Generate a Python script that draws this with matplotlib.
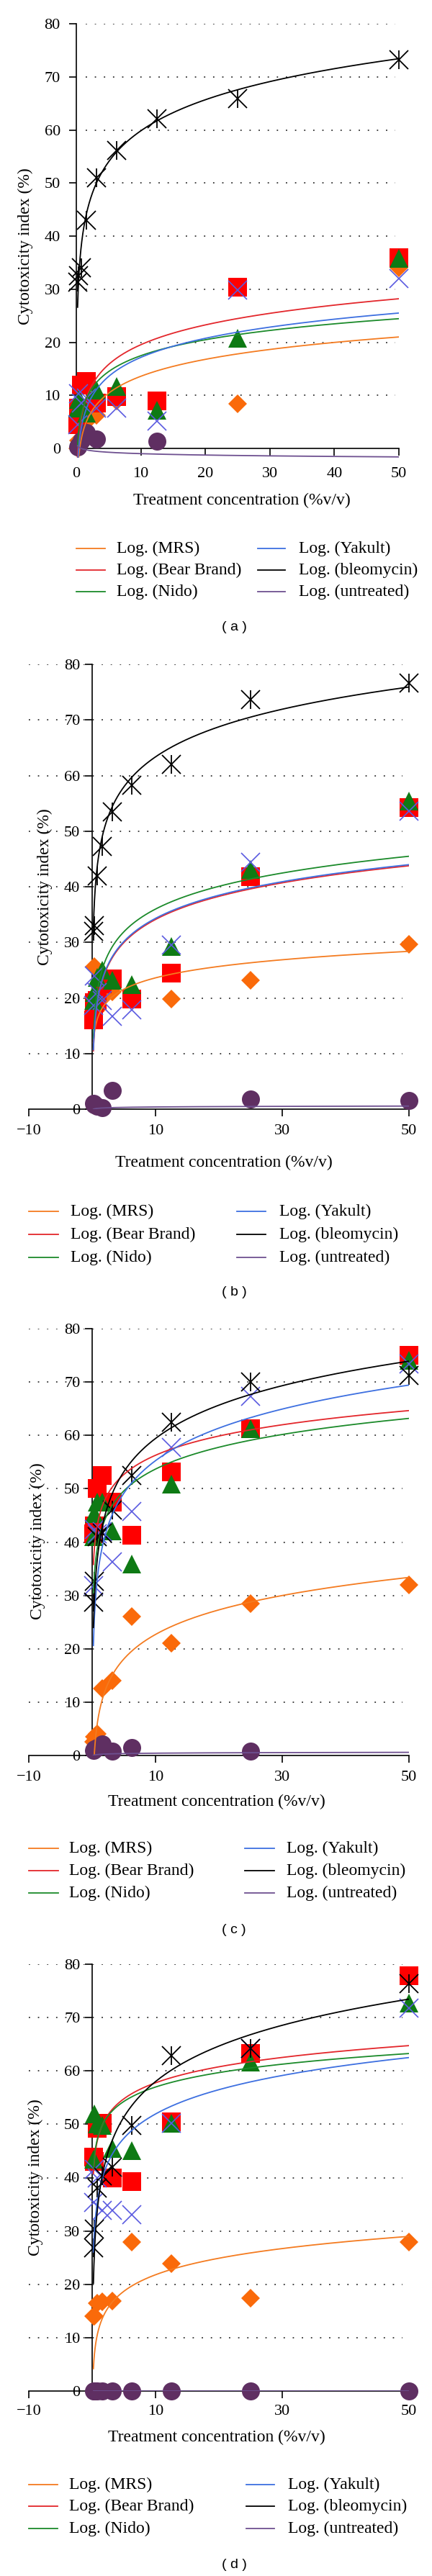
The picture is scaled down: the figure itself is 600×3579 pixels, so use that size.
import numpy as np
import matplotlib.pyplot as plt
from matplotlib.lines import Line2D

plt.rcParams["font.family"] = ["Liberation Serif", "DejaVu Serif"]

W, H = 600, 3579
nan = np.nan

conc = [0.195, 0.39, 0.78, 1.56, 3.125, 6.25, 12.5, 25, 50]
names = ["MRS", "Bear Brand", "Nido", "Yakult", "bleomycin", "untreated"]

# (a)
mrs_a = [0, 1.5, 3.5, 5.0, 6.3, 9.0, 8.0, 8.4, 34.0]
bear_a = [4.5, 7.6, 12.0, 12.6, 8.5, 9.7, 9.0, 30.4, 36.0]
nido_a = [7.6, 9.2, 8.5, 6.7, 11.0, 11.6, 7.2, 20.7, 35.8]
yakult_a = [4.5, 10.3, 8.5, 9.5, 7.6, 7.6, 5.2, 29.8, 32.0]
bleo_a = [31.3, 32.5, 34.0, 43.0, 51.0, 56.2, 62.1, 65.9, 73.2]
untr_a = [0.3, 0.5, 1.5, 3.0, 1.8, nan, 1.3, nan, nan]
slope_a = [4.6, 5.38, 4.33, 5.19, 8.44, -0.38]
icpt_a = [3.0, 7.15, 7.5, 5.2, 40.4, -0.11]

# (b)
mrs_b = [16.0, 25.6, 18.0, 20.0, 21.1, 20.0, 19.8, 23.2, 29.7]
bear_b = [16.0, 19.2, 19.5, 22.5, 23.4, 19.8, 24.5, 41.8, 54.3]
nido_b = [19.6, 21.0, 23.7, 25.0, 23.2, 22.4, 29.3, 43.1, 55.4]
yakult_b = [18.7, 24.0, 21.0, 19.5, 16.7, 17.9, 29.5, 44.4, 53.6]
bleo_b = [32.0, 33.0, 42.0, 47.2, 53.5, 58.2, 62.0, 73.6, 76.6]
untr_b = [1.0, 0.8, 0.5, 0.3, 3.4, nan, nan, 1.8, 1.6]
slope_b = [2.96, 6.0, 5.9, 6.0, 7.8, 0.1]
icpt_b = [16.8, 20.3, 22.4, 20.5, 45.4, 0.16]

# (c)
mrs_c = [2.5, 3.5, 4.0, 12.5, 14.0, 26.0, 21.0, 28.5, 32.0]
bear_c = [41.5, 43.0, 50.0, 52.5, 47.5, 41.3, 53.2, 61.3, 75.0]
nido_c = [41.0, 45.3, 47.5, 47.5, 42.1, 35.9, 50.9, 61.3, 74.0]
yakult_c = [31.8, 42.4, 41.5, 42.0, 36.3, 45.7, 57.7, 67.3, 73.4]
bleo_c = [28.7, 32.7, 41.0, 41.7, 46.0, 52.5, 62.4, 70.0, 71.2]
untr_c = [1.0, 1.2, 1.5, 2.1, 0.8, 1.5, nan, 0.8, nan]
slope_c = [6.64, 5.2, 5.9, 8.8, 9.0, 0.1]
icpt_c = [7.4, 44.3, 40.1, 35.0, 38.7, 0.2]

# (d)
mrs_d = [14.0, 14.0, 16.5, 16.7, 16.9, 27.9, 23.9, 17.4, 27.9]
bear_d = [43.9, 43.0, 49.3, 50.2, 39.9, 39.2, 50.5, 63.3, 77.9]
nido_d = [43.5, 52.0, 50.0, 49.8, 45.5, 45.1, 50.2, 61.7, 72.7]
yakult_d = [35.4, 41.6, 40.0, 33.8, 33.8, 33.1, 50.2, 64.2, 71.8]
bleo_d = [26.9, 30.4, 38.0, 40.3, 41.9, 49.8, 62.8, 64.2, 76.3]
untr_d = [0, 0, 0, 0, 0, 0, 0, 0, 0]
slope_d = [4.47, 4.33, 3.9, 6.57, 9.6, 0.0]
icpt_d = [11.5, 47.8, 48.0, 36.8, 35.9, 0.0]

line_colors = ["#f47b20", "#e3262b", "#1b8a2a", "#3d6fe0", "black", "#6e5090"]
marker_styles = [
    dict(marker="D", ms=13, color="#fa6a0a", mew=0),
    dict(marker="s", ms=19, color="#ff0000", mew=0),
    dict(marker="^", ms=19, color="#0e7a14", mew=0),
    dict(marker="x", ms=19, color="#5a5ae0", mew=1.2),
    dict(marker="x", ms=19, color="black", mew=1.3),
    dict(marker="o", ms=18, color="#5f2f62", mew=0),
]


def fx(x):
    return x / W


def fy(y):
    return 1 - y / H


fig = plt.figure(figsize=(W / 100, H / 100), dpi=100)

panels = [
    dict(data=[mrs_a, bear_a, nido_a, yakult_a, bleo_a, untr_a], slope=slope_a, icpt=icpt_a,
         box=(106, 554, 33, 636.3), xlim=(0, 50), ylim=(-1.8, 80), xticks=[0, 10, 20, 30, 40, 50],
         grid=(1.4, 49.4), ylab=(35.5, 342), xlab=(336, 695), xpad=12, ypad=9,
         leg=(106, 146, 162, 358, 396, 415, [762, 792, 822]), cap=(325, 872, "( a )")),
    dict(data=[mrs_b, bear_b, nido_b, yakult_b, bleo_b, untr_b], slope=slope_b, icpt=icpt_b,
         box=(40, 568, 923, 1541), xlim=(-10, 50), ylim=(0, 80), xticks=[-10, 10, 30, 50],
         grid=(-10, 49), ylab=(62.5, 1232), xlab=(311, 1615), xpad=8, ypad=5,
         leg=(40, 81, 98, 329, 369, 388, [1683, 1715, 1747]), cap=(325, 1796, "( b )")),
    dict(data=[mrs_c, bear_c, nido_c, yakult_c, bleo_c, untr_c], slope=slope_c, icpt=icpt_c,
         box=(40, 568, 1846, 2439), xlim=(-10, 50), ylim=(0, 80), xticks=[-10, 10, 30, 50],
         grid=(-10, 49), ylab=(52.5, 2141), xlab=(301, 2503), xpad=8, ypad=5,
         leg=(40, 81, 96, 340, 381, 398, [2568, 2599, 2630]), cap=(325, 2682, "( c )")),
    dict(data=[mrs_d, bear_d, nido_d, yakult_d, bleo_d, untr_d], slope=slope_d, icpt=icpt_d,
         box=(40, 568, 2729, 3322), xlim=(-10, 50), ylim=(0, 80), xticks=[-10, 10, 30, 50],
         grid=(-10, 49), ylab=(49, 3025), xlab=(301, 3386), xpad=7, ypad=5,
         leg=(40, 80, 96, 342, 381, 400, [3452, 3482, 3513]), cap=(325, 3563, "( d )")),
]

xfit = np.geomspace(conc[0], conc[-1], 400)

for p in panels:
    l, r, t, b = p["box"]
    ax = fig.add_axes([fx(l), fy(b), (r - l) / W, (b - t) / H])
    ax.patch.set_alpha(0)
    ax.set_xlim(p["xlim"])
    ax.set_ylim(p["ylim"])

    for yv in range(10, 81, 10):
        ax.plot(p["grid"], [yv, yv], color="#333333", lw=1.3, ls=(0, (1, 6)), zorder=1)

    for vals, st in zip(p["data"], marker_styles):
        ax.plot(conc, vals, ls="none", zorder=3, clip_on=False, **st)
    ax.plot(conc, p["data"][4], ls="none", marker="|", ms=19, mew=1.3, color="black",
            zorder=3, clip_on=False)

    for a, c, col in zip(p["slope"], p["icpt"], line_colors):
        ax.plot(xfit, a * np.log(xfit) + c, color=col, lw=1.3, zorder=4)

    for s in ["top", "right"]:
        ax.spines[s].set_visible(False)
    ax.spines["left"].set_position(("data", 0))
    ax.spines["bottom"].set_position(("data", 0))
    ax.spines["left"].set_bounds(0, 80)
    ax.spines["bottom"].set_bounds(p["xlim"][0], p["xlim"][1])
    for s in ["left", "bottom"]:
        ax.spines[s].set_linewidth(1.2)
        ax.spines[s].set_zorder(2)
    ax.set_xticks(p["xticks"])
    ax.set_yticks(range(0, 81, 10))
    ax.tick_params(direction="out", length=7, width=1.2, labelsize=16)
    ax.tick_params(axis="x", pad=p["xpad"])
    ax.tick_params(axis="y", pad=p["ypad"])

    fig.text(fx(p["ylab"][0]), fy(p["ylab"][1]), "Cytotoxicity index (%)", rotation=90,
             ha="center", va="center", fontsize=17)
    fig.text(fx(p["xlab"][0]), fy(p["xlab"][1]), "Treatment concentration (%v/v)",
             ha="center", va="center", fontsize=17)

    l0, l1, lt, r0, r1, rt, rows = p["leg"]
    for i, (name, col) in enumerate(zip(names, line_colors)):
        x0, x1, xt = (l0, l1, lt) if i < 3 else (r0, r1, rt)
        yy = fy(rows[i % 3])
        fig.add_artist(Line2D([fx(x0), fx(x1)], [yy, yy], color=col, lw=1.3,
                              transform=fig.transFigure))
        fig.text(fx(xt), yy, f"Log. ({name})", ha="left", va="center", fontsize=17)

    cx, cy, cap = p["cap"]
    fig.text(fx(cx), fy(cy), cap, ha="center", va="center", fontsize=14,
             family="Liberation Sans")

fig.savefig("out.png", dpi=100)
